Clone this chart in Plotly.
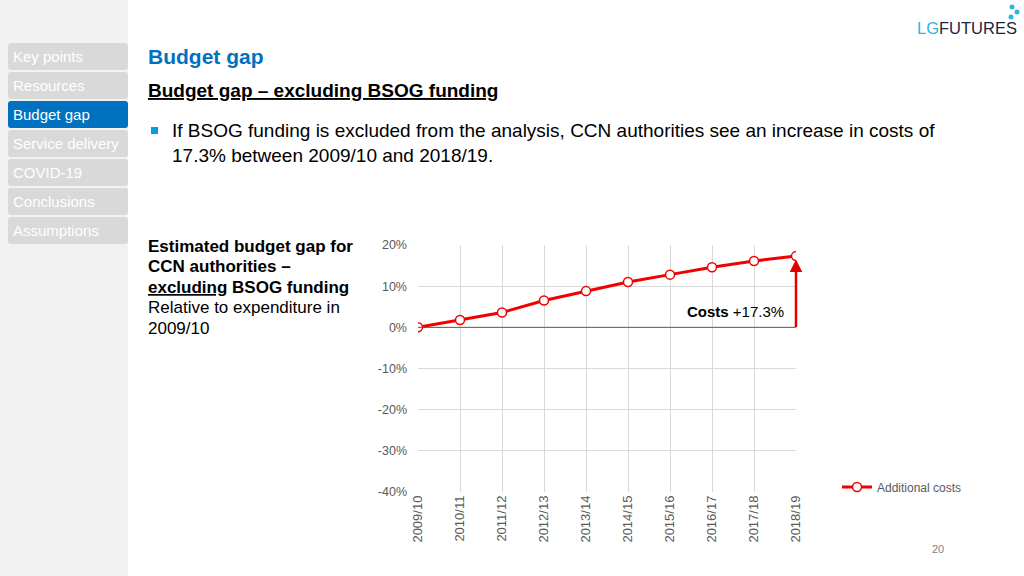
import plotly.graph_objects as go

years = ["2009/10", "2010/11", "2011/12", "2012/13", "2013/14",
         "2014/15", "2015/16", "2016/17", "2017/18", "2018/19"]
additional_costs = [0.0, 1.8, 3.6, 6.5, 8.8, 11.0, 12.8, 14.6, 16.1, 17.3]
y_ticks = [20, 10, 0, -10, -20, -30, -40]
y_tick_labels = ["20%", "10%", "0%", "-10%", "-20%", "-30%", "-40%"]
nav_items = ["Key points", "Resources", "Budget gap", "Service delivery",
             "COVID-19", "Conclusions", "Assumptions"]
active_nav = "Budget gap"
side_lines = ["<b>Estimated budget gap for</b>", "<b>CCN authorities –</b>",
              "<b><u>excluding</u> BSOG funding</b>", "Relative to expenditure in", "2009/10"]

W, H = 1024, 576
L, R, T, B = 418, 796, 245, 492
FONT = "Liberation Sans, Arial, sans-serif"


def xp(px):
    return (px - L) / (R - L)


def yp(py):
    return (B - py) / (B - T)


def rounded(x0, y0, x1, y1, r=3):
    X0, X1 = xp(x0), xp(x1)
    Y0, Y1 = yp(y0), yp(y1)
    rx = r / (R - L)
    ry = r / (B - T)
    return (f"M{X0+rx},{Y0} L{X1-rx},{Y0} Q{X1},{Y0} {X1},{Y0-ry} "
            f"L{X1},{Y1+ry} Q{X1},{Y1} {X1-rx},{Y1} L{X0+rx},{Y1} "
            f"Q{X0},{Y1} {X0},{Y1+ry} L{X0},{Y0-ry} Q{X0},{Y0} {X0+rx},{Y0} Z")


fig = go.Figure()
fig.add_trace(go.Scatter(
    x=list(range(len(years))), y=additional_costs, mode="lines+markers",
    name="Additional costs",
    line=dict(color="#f00000", width=3),
    marker=dict(size=9, color="white", line=dict(color="#f00000", width=1.5)),
))

shapes = []
shapes.append(dict(type="rect", xref="paper", yref="paper", x0=xp(0), x1=xp(128),
                   y0=yp(0), y1=yp(576), fillcolor="#f2f2f2", line_width=0, layer="below"))
annotations = []
for i, item in enumerate(nav_items):
    top = 43 + i * 29
    col = "#0070c0" if item == active_nav else "#d9d9d9"
    shapes.append(dict(type="path", xref="paper", yref="paper",
                       path=rounded(8, top, 128, top + 27), fillcolor=col,
                       line_width=0, layer="below"))
    annotations.append(dict(xref="paper", yref="paper", x=xp(11), y=yp(top + 13.5),
                            xanchor="left", yanchor="middle", showarrow=False,
                            text=item, font=dict(size=15, color="white", family=FONT)))

shapes.append(dict(type="line", xref="x", yref="y", x0=0, x1=9, y0=0, y1=0,
                   line=dict(color="#595959", width=1)))

shapes.append(dict(type="rect", xref="paper", yref="paper", x0=xp(151), x1=xp(158),
                   y0=yp(127), y1=yp(134), fillcolor="#00a0e3", line_width=0))

for cx, cy, r in [(1012, 7, 2.5), (1017, 12, 2.5), (1011, 17, 2.5)]:
    shapes.append(dict(type="circle", xref="paper", yref="paper",
                       x0=xp(cx - r), x1=xp(cx + r), y0=yp(cy - r), y1=yp(cy + r),
                       fillcolor="#2bb5e0", line_width=0))

for i, line in enumerate(side_lines):
    annotations.append(dict(xref="paper", yref="paper", x=xp(146), y=yp(246 + i * 20.5),
                            xanchor="left", yanchor="middle", showarrow=False,
                            text=line, font=dict(size=17, color="#000000", family=FONT)))

annotations += [
    dict(xref="paper", yref="paper", x=xp(146), y=yp(56), xanchor="left", yanchor="middle",
         showarrow=False, text="<b>Budget gap</b>",
         font=dict(size=21, color="#0070c0", family=FONT)),
    dict(xref="paper", yref="paper", x=xp(146), y=yp(91), xanchor="left", yanchor="middle",
         showarrow=False, text="<b><u>Budget gap – excluding BSOG funding</u></b>",
         font=dict(size=19, color="#000000", family=FONT)),
    dict(xref="paper", yref="paper", x=xp(170), y=yp(143), xanchor="left", yanchor="middle",
         showarrow=False, align="left",
         text="If BSOG funding is excluded from the analysis, CCN authorities see an increase in costs of<br>17.3% between 2009/10 and 2018/19.",
         font=dict(size=19, color="#000000", family=FONT)),
    dict(xref="paper", yref="paper", x=xp(1019), y=yp(28), xanchor="right", yanchor="middle",
         showarrow=False,
         text="<span style='color:#2bb5e0'>LG</span><span style='color:#1c2541'>FUTURES</span>",
         font=dict(size=16.5, family="Liberation Sans Narrow, Liberation Sans, Arial")),
    dict(xref="paper", yref="paper", x=xp(938), y=yp(549), xanchor="center", yanchor="middle",
         showarrow=False, text="20", font=dict(size=11, color="#7f7f7f", family=FONT)),
    dict(xref="x", yref="y", x=9, y=16.5, axref="x", ayref="y", ax=9, ay=-0.3,
         showarrow=True, arrowhead=2, arrowsize=1, arrowwidth=2.5, arrowcolor="#e00000",
         text=""),
    dict(xref="paper", yref="paper", x=xp(786), y=yp(311), xanchor="right", yanchor="middle",
         showarrow=False, text="<b>Costs</b> +17.3%",
         font=dict(size=15, color="#000000", family=FONT)),
]

fig.update_layout(
    width=W, height=H,
    margin=dict(l=L, r=W - R, t=T, b=H - B, pad=0),
    paper_bgcolor="white", plot_bgcolor="white",
    font=dict(family=FONT, color="#595959"),
    shapes=shapes, annotations=annotations,
    showlegend=True,
    legend=dict(x=xp(837), y=yp(487), xanchor="left", yanchor="middle",
                bgcolor="rgba(0,0,0,0)", font=dict(size=12, color="#595959", family=FONT),
                itemwidth=30),
    xaxis=dict(range=[0, 9], tickmode="array", tickvals=list(range(len(years))),
               ticktext=years, tickangle=-90, showgrid=True, gridcolor="#d9d9d9",
               gridwidth=1, zeroline=False, showline=False, ticks="",
               tickfont=dict(size=13, color="#595959")),
    yaxis=dict(range=[-40, 20], tickmode="array", tickvals=y_ticks, ticktext=y_tick_labels,
               showgrid=True, gridcolor="#d9d9d9", gridwidth=1, zeroline=False,
               showline=False, ticks="", ticklabelstandoff=10,
               tickfont=dict(size=12.5, color="#595959")),
)

fig.write_html("out.html", config={"displayModeBar": False},
               post_script="document.body.style.margin='0';document.body.style.overflow='hidden';")
